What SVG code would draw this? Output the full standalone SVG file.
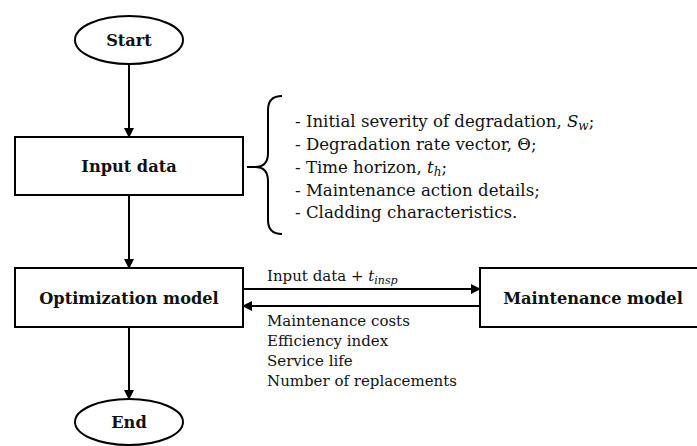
<svg xmlns="http://www.w3.org/2000/svg" width="697" height="446" viewBox="0 0 697 446">
<defs>
<marker id="ah" markerWidth="10" markerHeight="10" refX="9" refY="5" orient="auto" markerUnits="userSpaceOnUse">
<path d="M0,0 L10,5 L0,10 Z" fill="#000"/>
</marker>
<style>
.shape{fill:#fff;stroke:#000;stroke-width:2}
.conn{stroke:#000;stroke-width:2;fill:none}
.node{font-family:"DejaVu Serif","Liberation Serif",serif;font-weight:bold;font-size:16.2px;fill:#111;text-anchor:middle}
.lbl{font-family:"DejaVu Serif","Liberation Serif",serif;font-size:15px;fill:#111}
.list{font-family:"DejaVu Serif","Liberation Serif",serif;font-size:16.6px;fill:#111}
</style>
</defs>
<rect width="697" height="446" fill="#fff"/>
<g id="connectors">
<line class="conn" x1="129" y1="64" x2="129" y2="137" marker-end="url(#ah)"/>
<line class="conn" x1="129" y1="195" x2="129" y2="268" marker-end="url(#ah)"/>
<line class="conn" x1="129" y1="327" x2="129" y2="399" marker-end="url(#ah)"/>
<line class="conn" x1="243" y1="289" x2="480" y2="289" marker-end="url(#ah)"/>
<line class="conn" x1="480" y1="306" x2="243" y2="306" marker-end="url(#ah)"/>
<text class="lbl" x="267" y="281">Input data + <tspan font-style="italic">t</tspan><tspan font-style="italic" font-size="11" dy="3">insp</tspan></text>
<text class="lbl" x="267" y="326">Maintenance costs</text>
<text class="lbl" x="267" y="346">Efficiency index</text>
<text class="lbl" x="267" y="366">Service life</text>
<text class="lbl" x="267" y="386">Number of replacements</text>
</g>
<g id="start">
<ellipse class="shape" cx="129" cy="40" rx="54" ry="24"/>
<text class="node" x="129" y="46">Start</text>
</g>
<g id="input-data">
<rect class="shape" x="15" y="137" width="228" height="58"/>
<text class="node" x="129" y="172">Input data</text>
</g>
<g id="input-details">
<line class="conn" x1="247" y1="167" x2="256" y2="167" stroke-width="1.5"/>
<path class="conn" stroke-width="1.5" d="M282,96 Q268,96 268,110 L268,153 Q268,167 255,167 Q268,167 268,181 L268,220 Q268,234 282,234"/>
<text class="list" x="295" y="127">- Initial severity of degradation, <tspan font-style="italic">S</tspan><tspan font-style="italic" font-size="12" dy="3">w</tspan><tspan dy="-3">;</tspan></text>
<text class="list" x="295" y="150">- Degradation rate vector, Θ;</text>
<text class="list" x="295" y="173">- Time horizon, <tspan font-style="italic">t</tspan><tspan font-style="italic" font-size="12" dy="3">h</tspan><tspan dy="-3">;</tspan></text>
<text class="list" x="295" y="196">- Maintenance action details;</text>
<text class="list" x="295" y="218">- Cladding characteristics.</text>
</g>
<g id="optimization-model">
<rect class="shape" x="15" y="268" width="228" height="59"/>
<text class="node" x="129" y="304">Optimization model</text>
</g>
<g id="maintenance-model">
<rect class="shape" x="480" y="268" width="228" height="59"/>
<text class="node" x="593" y="304">Maintenance model</text>
</g>
<g id="end">
<ellipse class="shape" cx="129" cy="422" rx="54" ry="23"/>
<text class="node" x="129" y="428">End</text>
</g>
</svg>
